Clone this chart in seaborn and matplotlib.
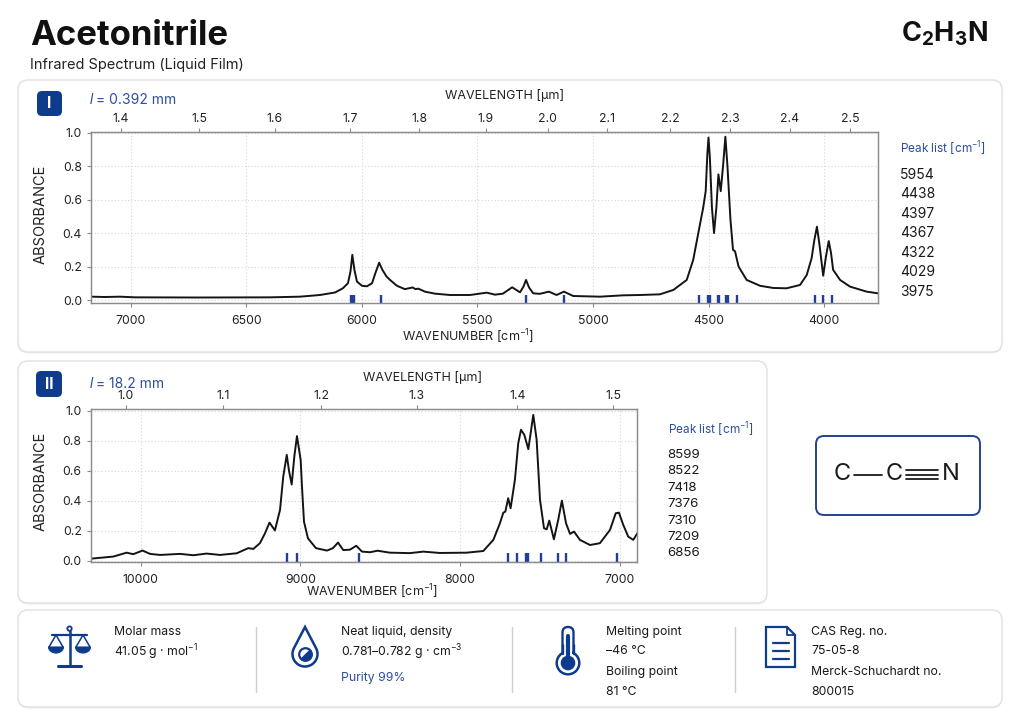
import numpy as np
import pandas as pd
import matplotlib
matplotlib.use("Agg")
import matplotlib.pyplot as plt
import seaborn as sns
from matplotlib.patches import FancyBboxPatch, Circle, Polygon, Wedge

# ---- values ----
# panel I, path length 0.392 mm
wn_1 = [7171, 7111, 7046, 6981, 6700, 6397, 6267, 6181, 6116, 6082, 6060, 6049,
        6041, 6032, 6021, 5999, 5978, 5956, 5939, 5925, 5911, 5893, 5878, 5848,
        5814, 5780, 5768, 5756, 5727, 5684, 5619, 5532, 5460, 5424, 5390, 5350,
        5316, 5301, 5290, 5277, 5259, 5230, 5191, 5158, 5126, 5086, 4970, 4870,
        4797, 4711, 4653, 4624, 4595, 4567, 4538, 4524, 4513, 4506, 4501, 4495,
        4486, 4477, 4467, 4458, 4448, 4438, 4428, 4419, 4406, 4395, 4386, 4371,
        4336, 4278, 4221, 4163, 4105, 4076, 4055, 4043, 4032, 4021, 4005, 3993,
        3981, 3971, 3962, 3932, 3889, 3817, 3768]
abs_1 = [0.020, 0.018, 0.020, 0.016, 0.015, 0.016, 0.020, 0.030, 0.045, 0.070, 0.100, 0.170,
         0.270, 0.180, 0.110, 0.085, 0.082, 0.100, 0.170, 0.223, 0.180, 0.140, 0.120, 0.085,
         0.065, 0.075, 0.065, 0.068, 0.050, 0.038, 0.030, 0.030, 0.044, 0.032, 0.038, 0.076,
         0.046, 0.080, 0.120, 0.075, 0.040, 0.037, 0.050, 0.030, 0.050, 0.024, 0.020, 0.028,
         0.030, 0.034, 0.060, 0.090, 0.120, 0.240, 0.450, 0.550, 0.650, 0.870, 0.970, 0.850,
         0.550, 0.400, 0.550, 0.750, 0.650, 0.800, 0.975, 0.800, 0.480, 0.300, 0.290, 0.200,
         0.120, 0.085, 0.072, 0.070, 0.090, 0.150, 0.250, 0.360, 0.438, 0.330, 0.145, 0.260,
         0.352, 0.280, 0.180, 0.120, 0.080, 0.050, 0.040]
marks_1 = [6047, 6040, 6033, 5917, 5290, 5126, 4541, 4501, 4496, 4461, 4454,
           4427, 4416, 4378, 4040, 4005, 3966]
peaks_1 = [5954, 4438, 4397, 4367, 4322, 4029, 3975]
wl_ticks_1 = [1.4, 1.5, 1.6, 1.7, 1.8, 1.9, 2.0, 2.1, 2.2, 2.3, 2.4, 2.5]
wl_at_wn_1 = [7042, 6703, 6376, 6051, 5752, 5465, 5196, 4939, 4668, 4408, 4149, 3889]

# panel II, path length 18.2 mm
wn_2 = [10312, 10171, 10087, 10046, 9987, 9941, 9878, 9753, 9670, 9586, 9503, 9398,
        9326, 9294, 9253, 9221, 9193, 9159, 9127, 9107, 9085, 9071, 9054, 9037,
        9021, 8998, 8990, 8977, 8952, 8902, 8833, 8796, 8764, 8731, 8689, 8650,
        8614, 8564, 8517, 8439, 8314, 8231, 8126, 7959, 7855, 7792, 7751, 7730,
        7717, 7699, 7684, 7657, 7636, 7619, 7598, 7573, 7542, 7521, 7500, 7475,
        7458, 7442, 7413, 7386, 7363, 7337, 7312, 7287, 7250, 7187, 7125, 7062,
        7026, 7006, 6979, 6948, 6916, 6891]
abs_2 = [0.015, 0.029, 0.055, 0.045, 0.069, 0.047, 0.040, 0.047, 0.038, 0.049, 0.040, 0.051,
         0.085, 0.080, 0.118, 0.184, 0.255, 0.203, 0.340, 0.560, 0.705, 0.600, 0.508, 0.700,
         0.830, 0.672, 0.500, 0.260, 0.150, 0.085, 0.069, 0.085, 0.122, 0.072, 0.075, 0.101,
         0.062, 0.058, 0.068, 0.055, 0.052, 0.062, 0.053, 0.055, 0.066, 0.140, 0.250, 0.320,
         0.328, 0.417, 0.350, 0.539, 0.783, 0.872, 0.838, 0.743, 0.971, 0.805, 0.406, 0.218,
         0.210, 0.268, 0.144, 0.273, 0.401, 0.250, 0.180, 0.195, 0.140, 0.106, 0.118, 0.206,
         0.317, 0.321, 0.240, 0.162, 0.140, 0.184]
marks_2 = [9085, 9019, 8633, 7702, 7646, 7588, 7578, 7494, 7389, 7339, 7016]
peaks_2 = [8599, 8522, 7418, 7376, 7310, 7209, 6856]
wl_ticks_2 = [1.0, 1.1, 1.2, 1.3, 1.4, 1.5]
wl_at_wn_2 = [10091, 9482, 8871, 8272, 7642, 7041]

NAVY = "#0f3b8c"
BLUE = "#2b4ea2"
MARK = "#1f3f99"
INK = "#1a1a1a"
AXC = "#8c8c8c"

sns.set_theme(style="ticks")
plt.rcParams["font.family"] = ["Inter", "DejaVu Sans"]
plt.rcParams["mathtext.fontset"] = "custom"
plt.rcParams["mathtext.rm"] = "Inter"
plt.rcParams["mathtext.bf"] = "Inter:bold"
plt.rcParams["mathtext.it"] = "Inter:italic"

W, H = 1024, 723
fig = plt.figure(figsize=(W / 100, H / 100), dpi=100, facecolor="white")
bg = fig.add_axes([0, 0, 1, 1], zorder=0)
bg.set_xlim(0, W)
bg.set_ylim(H, 0)
bg.axis("off")


def card(x, y, w, h, r=10, ec="#e0e0e0", lw=1.0):
    bg.add_patch(FancyBboxPatch((x, y + 1.5), w, h, boxstyle=f"round,pad=0,rounding_size={r}",
                                fc="#f1f1f1", ec="none"))
    bg.add_patch(FancyBboxPatch((x, y), w, h, boxstyle=f"round,pad=0,rounding_size={r}",
                                fc="white", ec=ec, lw=lw))


def badge(x, y, s, label):
    bg.add_patch(FancyBboxPatch((x, y), s, s, boxstyle="round,pad=0,rounding_size=5",
                                fc=NAVY, ec="none"))
    bg.text(x + s / 2, y + s / 2 + 0.5, label, color="white", fontsize=11, fontweight="bold",
            ha="center", va="center")


def px_axes(left, top, right, bottom):
    return fig.add_axes([left / W, 1 - bottom / H, (right - left) / W, (bottom - top) / H], zorder=2)


def spectrum(ax, wn, ab, xlim, ylim, xticks, wl_ticks, wl_pos, marks, mark_h):
    df = pd.DataFrame({"wavenumber": wn, "absorbance": ab})
    sns.lineplot(data=df, x="wavenumber", y="absorbance", ax=ax, color="#141414",
                 linewidth=1.4, estimator=None, solid_joinstyle="round")
    ax.vlines(marks, 0, mark_h, transform=ax.get_xaxis_transform(), colors=MARK, linewidth=1.7)
    ax.set_xlim(*xlim)
    ax.set_ylim(*ylim)
    ax.set_xticks(xticks)
    yt = [0.0, 0.2, 0.4, 0.6, 0.8, 1.0]
    ax.set_yticks(yt, labels=[f"{v:.1f}" for v in yt])
    ax.set_xlabel("")
    ax.set_ylabel("")
    ax.grid(True, color="#d6d6d6", linestyle=(0, (1, 2)), linewidth=0.8)
    top = ax.twiny()
    top.set_xlim(ax.get_xlim())
    top.set_xticks(wl_pos, labels=[f"{v:.1f}" for v in wl_ticks])
    for a in (ax, top):
        a.tick_params(length=3, width=0.8, color=AXC, labelcolor="#222222", labelsize=8.8)
        for sp in a.spines.values():
            sp.set_visible(True)
            sp.set_color(AXC)
            sp.set_linewidth(0.9)
    ax.tick_params(axis="x", pad=5.5)
    ax.tick_params(axis="y", pad=3.5)
    top.tick_params(axis="x", pad=2)


# cards
card(18, 80, 984, 272)
card(18, 361, 749, 242)
card(18, 610, 984, 97)

# header
bg.text(30, 45, "Acetonitrile", fontsize=25, fontweight="bold", color="#111111", va="baseline")
bg.text(30, 69, "Infrared Spectrum (Liquid Film)", fontsize=10.5, color="#222222", va="baseline")
bg.text(988, 41.7, r"C$_\mathbf{2}$H$_\mathbf{3}$N", fontsize=19.5, fontweight="bold",
        color="#111111", ha="right", va="baseline")

# panel I
badge(37, 91, 25, "I")
bg.text(90, 100.5, "l", fontsize=10, color=BLUE, family="Liberation Sans", style="italic", va="center")
bg.text(96.5, 100.5, "= 0.392 mm", fontsize=10, color=BLUE, va="center")
bg.text(505, 95, r"WAVELENGTH [µm]", fontsize=9, color="#222222", ha="center", va="center")
bg.text(468, 337, r"WAVENUMBER [cm$^{-1}$]", fontsize=9, color="#222222", ha="center", va="center")
bg.text(40.5, 214, "ABSORBANCE", fontsize=10.5, color="#222222", rotation=90, ha="center", va="center")
ax1 = px_axes(91, 131.7, 878, 302.7)
spectrum(ax1, wn_1, abs_1, (7171, 3768), (-0.016, 1.005), list(range(7000, 3999, -500)),
         wl_ticks_1, wl_at_wn_1, marks_1, 0.045)
bg.text(900, 148.3, r"Peak list [cm$^{-1}$]", fontsize=8.5, color=BLUE, va="center")
for i, p in enumerate(peaks_1):
    bg.text(900, 175 + i * 19.45, str(p), fontsize=10, color=INK, va="center")

# panel II
badge(36, 371, 26, "II")
bg.text(90, 384, "l", fontsize=10, color=BLUE, family="Liberation Sans", style="italic", va="center")
bg.text(96.5, 384, "= 18.2 mm", fontsize=10, color=BLUE, va="center")
bg.text(423, 378, r"WAVELENGTH [µm]", fontsize=9, color="#222222", ha="center", va="center")
bg.text(372, 591.7, r"WAVENUMBER [cm$^{-1}$]", fontsize=9, color="#222222", ha="center", va="center")
bg.text(40.5, 481, "ABSORBANCE", fontsize=10.5, color="#222222", rotation=90, ha="center", va="center")
ax2 = px_axes(90.7, 409.3, 637.3, 561.7)
spectrum(ax2, wn_2, abs_2, (10312, 6891), (-0.005, 1.008), [10000, 9000, 8000, 7000],
         wl_ticks_2, wl_at_wn_2, marks_2, 0.055)
bg.text(667.5, 430, r"Peak list [cm$^{-1}$]", fontsize=8.5, color=BLUE, va="center")
for i, p in enumerate(peaks_2):
    bg.text(667.5, 455 + i * 16.4, str(p), fontsize=9.6, color=INK, va="center")

# structure box  C-C#N
bg.add_patch(FancyBboxPatch((816, 436), 164, 79, boxstyle="round,pad=0,rounding_size=8",
                            fc="white", ec="#24438f", lw=1.4))
for xc, s in [(842, "C"), (894, "C"), (951, "N")]:
    bg.text(xc, 474.5, s, fontsize=17, color=INK, ha="center", va="center")
bg.plot([854, 882], [474.5, 474.5], color=INK, lw=1.3)
for dy in (-4.5, 0, 4.5):
    bg.plot([906, 938], [474.5 + dy, 474.5 + dy], color=INK, lw=1.3)

# info bar dividers
for xd in (256, 512, 735):
    bg.plot([xd, xd], [627, 692], color="#cfcfcf", lw=1)

# balance icon
bg.add_patch(Circle((69.5, 628.6), 2.2, fc="white", ec=NAVY, lw=1.3))
bg.plot([69.5, 69.5], [631, 665], color=NAVY, lw=1.8)
bg.plot([52, 87], [634.5, 634.5], color=NAVY, lw=1.6)
bg.plot([58, 81], [665.8, 665.8], color=NAVY, lw=2.2)
for cx in (56, 83):
    bg.plot([cx - 7, cx, cx + 7], [647, 635, 647], color=NAVY, lw=1.1)
    t = np.linspace(0, np.pi, 20)
    pts = np.column_stack([cx + 7.5 * np.cos(t), 647 + 6 * np.sin(t)])
    bg.add_patch(Polygon(pts, closed=True, fc=NAVY, ec=NAVY, lw=0.8))

# drop icon
cx, cy, r, tip = 305, 654, 12.5, 627
phi = np.arccos(r / (cy - tip))
t = np.linspace(phi, 2 * np.pi - phi, 60)
drop = np.vstack([[cx, tip], np.column_stack([cx + r * np.sin(t), cy - r * np.cos(t)])])
bg.add_patch(Polygon(drop, closed=True, fc="white", ec=NAVY, lw=1.8))
bg.add_patch(Circle((305.5, 654.5), 6.3, fc="white", ec=NAVY, lw=1.6))
bg.add_patch(Wedge((305.5, 654.5), 6.3, -45, 135, fc=NAVY, ec=NAVY, lw=0.8))

# thermometer icon
bg.add_patch(FancyBboxPatch((562.5, 627), 11, 32, boxstyle="round,pad=0,rounding_size=5.5",
                            fc="white", ec=NAVY, lw=1.7))
bg.add_patch(Circle((568, 663), 11.3, fc="white", ec=NAVY, lw=1.8))
bg.add_patch(FancyBboxPatch((563.9, 650), 8.2, 10, boxstyle="square,pad=0", fc="white", ec="none"))
bg.plot([562.5, 562.5], [645, 654], color=NAVY, lw=1.7)
bg.plot([573.5, 573.5], [645, 654], color=NAVY, lw=1.7)
bg.add_patch(Circle((568, 663), 7.3, fc=NAVY, ec="none"))
bg.plot([568, 568], [636, 660], color=NAVY, lw=3)

# document icon
doc = [(766, 627), (787, 627), (795, 635), (795, 667), (766, 667)]
bg.add_patch(Polygon(doc, closed=True, fc="white", ec=NAVY, lw=1.6))
bg.plot([787, 787, 795], [627, 635, 635], color=NAVY, lw=1.3)
for yl in (643, 651, 659):
    bg.plot([772.5, 788.5], [yl, yl], color=NAVY, lw=1.6)

# info texts
info = dict(fontsize=8.8, color=INK, va="center")
bg.text(114.5, 631.7, "Molar mass", **info)
bg.text(114.5, 652.3, r"41.05 g · mol$^{-1}$", **info)
bg.text(341, 631.7, "Neat liquid, density", **info)
bg.text(341, 652.3, r"0.781–0.782 g · cm$^{-3}$", **info)
bg.text(341, 678.3, "Purity 99%", fontsize=8.8, color=BLUE, va="center")
bg.text(606, 631.7, "Melting point", **info)
bg.text(606, 650.7, "–46 °C", **info)
bg.text(606, 671.7, "Boiling point", **info)
bg.text(606, 691.7, "81 °C", **info)
bg.text(811, 631.7, "CAS Reg. no.", **info)
bg.text(811, 650.7, "75-05-8", **info)
bg.text(811, 671.7, "Merck-Schuchardt no.", **info)
bg.text(811, 691.7, "800015", **info)

fig.savefig("out.png", dpi=100, facecolor="white")
